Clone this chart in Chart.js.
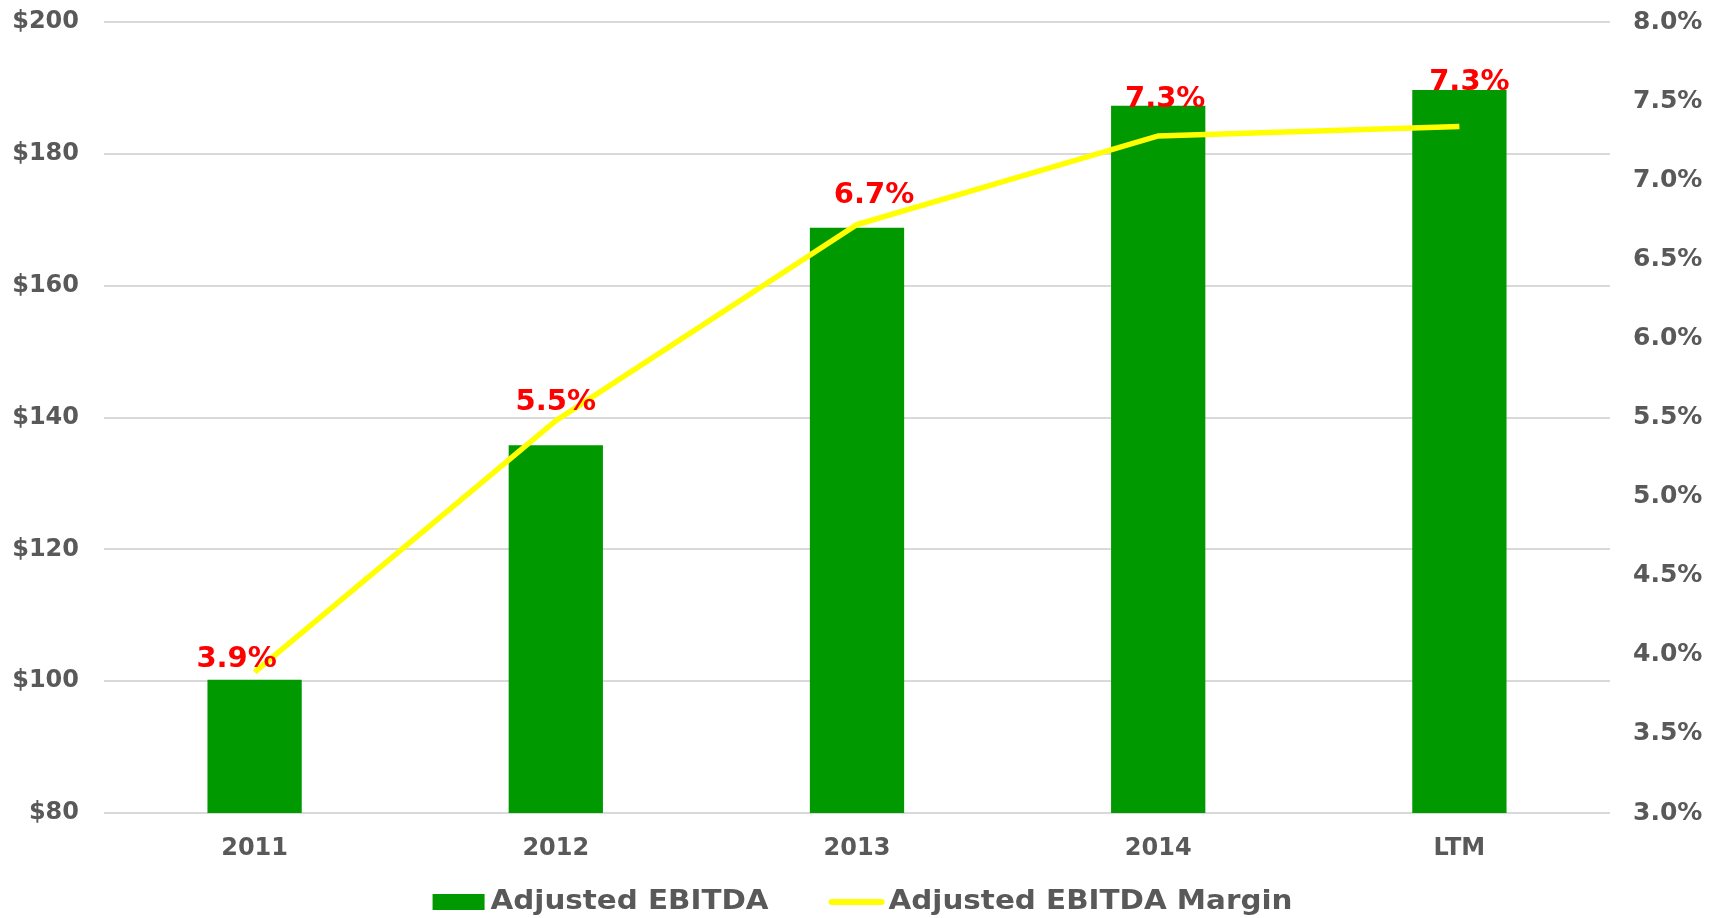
<!DOCTYPE html>
<html>
<head>
<meta charset="utf-8">
<script src="https://cdn.jsdelivr.net/npm/chart.js@4.4.1/dist/chart.umd.min.js"></script>
<style>
  html, body { margin: 0; padding: 0; background: #fff; }
  #wrap { width: 1725px; height: 918px; }
</style>
</head>
<body>
<div id="wrap"><canvas id="myChart"></canvas></div>
<script>
const labels = ['2011', '2012', '2013', '2014', 'LTM'];
const ebitda = [100.2, 135.8, 168.8, 187.3, 189.7];
const margin = [3.89, 5.48, 6.72, 7.28, 7.34];
const marginLabels = ['3.9%', '5.5%', '6.7%', '7.3%', '7.3%'];

const tickColor = '#595959';
const gridColor = '#d9d9d9';
const fontFamily = '"DejaVu Sans", Verdana, sans-serif';

// red margin labels drawn above each line point
const marginLabelPlugin = {
  id: 'marginLabels',
  afterDatasetsDraw(chart, args, opts) {
    const meta = chart.getDatasetMeta(0);
    const ctx = chart.ctx;
    ctx.save();
    ctx.font = 'bold 29px ' + fontFamily;
    ctx.fillStyle = '#ff0000';
    ctx.textAlign = 'center';
    ctx.textBaseline = 'middle';
    meta.data.forEach((pt, i) => {
      const off = opts.offsets[i];
      ctx.fillText(marginLabels[i], pt.x + off[0], pt.y + off[1]);
    });
    ctx.restore();
  }
};

// legend drawn by hand: the original text is a little wider than the font
const bottomLegend = {
  id: 'bottomLegend',
  afterDraw(chart, args, opts) {
    const ctx = chart.ctx;
    const ds = chart.data.datasets;
    const items = [ds[1], ds[0]];
    const sx = opts.stretch;
    ctx.save();
    ctx.font = 'bold ' + opts.size + 'px ' + fontFamily;
    const sw = [52, 56], gap = [6, 4], between = 60;
    const widths = items.map(d => ctx.measureText(d.label).width * sx);
    const total = sw[0] + gap[0] + widths[0] + between + sw[1] + gap[1] + widths[1];
    let x = (chart.width - total) / 2;
    const base = chart.height - opts.bottom;
    items.forEach((d, i) => {
      if (d.type === 'line') {
        ctx.strokeStyle = d.borderColor;
        ctx.lineWidth = 6;
        ctx.lineCap = 'round';
        ctx.beginPath();
        ctx.moveTo(x + 3, base - 7);
        ctx.lineTo(x + sw[i] - 3, base - 7);
        ctx.stroke();
      } else {
        ctx.fillStyle = d.backgroundColor;
        ctx.fillRect(x, base - 15, sw[i], 16);
      }
      x += sw[i] + gap[i];
      ctx.save();
      ctx.translate(x, base);
      ctx.scale(sx, 1);
      ctx.fillStyle = tickColor;
      ctx.textBaseline = 'alphabetic';
      ctx.fillText(d.label, 0, 0);
      ctx.restore();
      x += widths[i] + between;
    });
    ctx.restore();
  }
};

function fixY(scale, width) {
  scale.width = width;
  scale.paddingTop = 22;
  scale.paddingBottom = 0;
}

const ctx = document.getElementById('myChart').getContext('2d');
new Chart(ctx, {
  type: 'bar',
  data: {
    labels: labels,
    datasets: [{
      type: 'line',
      label: 'Adjusted EBITDA Margin',
      data: margin,
      yAxisID: 'y1',
      borderColor: '#ffff00',
      backgroundColor: '#ffff00',
      borderWidth: 5.5,
      pointRadius: 0,
      tension: 0,
      order: 0
    }, {
      label: 'Adjusted EBITDA',
      data: ebitda,
      yAxisID: 'y',
      backgroundColor: '#009900',
      borderWidth: 0,
      categoryPercentage: 1,
      barPercentage: 0.313,
      order: 1
    }]
  },
  options: {
    responsive: true,
    maintainAspectRatio: false,
    animation: false,
    layout: { padding: { top: 0, bottom: 36, left: 0, right: 0 } },
    plugins: {
      tooltip: { enabled: false },
      legend: { display: false },
      marginLabels: {
        offsets: [[-18, -13], [0, -18], [17, -29], [7, -36], [10, -44]]
      },
      bottomLegend: { size: 26, stretch: 1.13, bottom: 9 }
    },
    scales: {
      x: {
        grid: { display: false },
        border: { display: false },
        ticks: {
          color: tickColor,
          padding: 13,
          font: { family: fontFamily, size: 24, weight: 'bold' }
        },
        afterFit(scale) { scale.height = 69; }
      },
      y: {
        position: 'left',
        min: 80,
        max: 200,
        ticks: {
          stepSize: 20,
          color: tickColor,
          padding: 25,
          font: { family: fontFamily, size: 24, weight: 'bold' },
          callback: v => '$' + v
        },
        grid: { color: gridColor, lineWidth: 2, drawTicks: false },
        border: { display: false },
        afterFit(scale) { fixY(scale, 104); }
      },
      y1: {
        position: 'right',
        min: 3,
        max: 8,
        ticks: {
          stepSize: 0.5,
          color: tickColor,
          padding: 23,
          font: { family: fontFamily, size: 25, weight: 'bold' },
          callback: v => v.toFixed(1) + '%'
        },
        grid: { display: false, drawTicks: false },
        border: { display: false },
        afterFit(scale) { fixY(scale, 115); }
      }
    }
  },
  plugins: [marginLabelPlugin, bottomLegend]
});
</script>
</body>
</html>
